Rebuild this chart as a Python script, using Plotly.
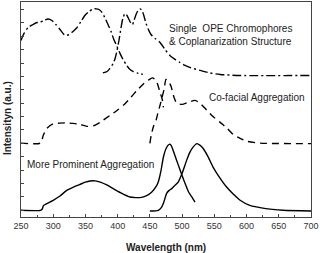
import plotly.graph_objects as go

# Solid curves (bottom): absorption-like and emission
solid_abs_x = [250, 280, 283, 285, 290, 300, 310, 321, 330, 341, 350, 357, 365, 373, 383, 393, 405, 419, 428, 435, 445, 453, 460, 463, 467, 471, 475, 480, 483, 486, 491, 497, 503, 510, 515, 520]
solid_abs_y = [0.5, 0.5, 0.6, 0.87, 1.0, 1.25, 1.55, 1.99, 2.2, 2.42, 2.6, 2.69, 2.7, 2.61, 2.4, 2.12, 1.8, 1.49, 1.45, 1.45, 1.6, 1.87, 2.3, 2.61, 3.4, 4.48, 5.1, 5.43, 5.35, 4.98, 4.3, 3.49, 2.7, 1.87, 1.5, 1.12]
solid_em_x = [450, 463, 468, 471, 476, 480, 484, 489, 494, 500, 507, 512, 517, 523, 528, 533, 540, 548, 558, 569, 580, 590, 605, 621, 640, 657, 700]
solid_em_y = [0.45, 0.5, 0.72, 1.02, 1.77, 1.99, 2.12, 2.37, 2.61, 3.26, 4.23, 4.83, 5.22, 5.48, 5.35, 5.1, 4.53, 3.73, 2.96, 2.24, 1.69, 1.25, 0.87, 0.7, 0.57, 0.5, 0.45]

# Dashed curves (middle)
dash_abs_x = [250, 280, 284.6, 290, 300, 310, 321, 331, 341.5, 352, 362, 372.6, 388, 399, 408.7, 419, 430, 440, 447, 454, 459.5, 462.6, 465.7, 468.8, 471]
dash_abs_y = [5.52, 5.52, 6.1, 6.62, 6.96, 7.01, 7.03, 6.99, 6.92, 6.77, 6.81, 7.07, 7.59, 7.96, 8.34, 8.86, 9.46, 9.94, 10.2, 10.39, 10.2, 9.83, 9.31, 8.86, 8.19]
dash_em_x = [450, 452, 456, 459.5, 462.6, 465.7, 468.8, 472, 475, 478, 482.8, 487.5, 492, 500, 509, 520, 528, 538.6, 548, 559, 570, 579, 590, 601, 621, 700]
dash_em_y = [5.5, 6.1, 6.84, 7.22, 7.81, 8.34, 8.93, 9.53, 10.28, 10.2, 9.76, 8.93, 8.49, 8.41, 8.56, 8.71, 8.49, 7.96, 7.51, 7.07, 6.62, 6.17, 5.87, 5.65, 5.52, 5.48]

# Dash-dot curves (top)
dd_abs_x = [250, 254.7, 261, 268.6, 274.8, 279.5, 285.7, 292, 298, 304, 310.5, 316.7, 320, 324.5, 330.7, 337, 343, 349, 355.5, 361.7, 366.4, 371, 375.7, 380, 385, 389.7, 394, 399, 403.6, 408.3, 413, 417.6, 423.8, 430, 439]
dd_abs_y = [13.19, 13.71, 14.16, 14.38, 14.53, 14.53, 14.68, 14.79, 14.68, 14.38, 14.01, 13.63, 13.56, 13.63, 13.86, 14.16, 14.6, 15.05, 15.35, 15.54, 15.55, 15.5, 15.28, 14.9, 14.38, 13.86, 13.26, 12.74, 12.22, 11.77, 11.4, 11.1, 10.87, 10.76, 10.65]
dd_em_x = [377, 383.5, 388, 393, 396, 399, 402, 405, 408, 411.4, 414.5, 417.6, 420.7, 423, 425.4, 428.5, 431.6, 434.7, 437.8, 441, 444, 447, 451.7, 458, 465.7, 473.5, 481, 489, 496.7, 504.5, 512, 527.8, 543, 559, 590, 700]
dd_em_y = [10.76, 10.87, 11.1, 11.47, 11.84, 12.44, 13.19, 14.08, 14.83, 15.2, 15.05, 14.75, 14.46, 14.38, 14.68, 15.13, 15.43, 15.55, 15.43, 14.98, 14.46, 14.08, 13.63, 13.34, 13.04, 12.51, 12.07, 11.77, 11.54, 11.32, 11.17, 10.95, 10.76, 10.65, 10.57, 10.57]

x_tick_vals = [250, 300, 350, 400, 450, 500, 550, 600, 650, 700]
y_tick_vals = [0.5 + k for k in range(16)]

labels = ["Single  OPE Chromophores", "& Coplanarization Structure", "Co-facial Aggregation", "More Prominent Aggregation"]

fig = go.Figure()
ln = dict(color="black", width=1.4, shape="spline", smoothing=0.6)
for xs, ys, dash in [
    (solid_abs_x, solid_abs_y, "solid"),
    (solid_em_x, solid_em_y, "solid"),
    (dash_abs_x, dash_abs_y, "7px,5px"),
    (dash_em_x, dash_em_y, "7px,5px"),
    (dd_abs_x, dd_abs_y, "9px,3px,2px,3px"),
    (dd_em_x, dd_em_y, "9px,3px,2px,3px"),
]:
    fig.add_trace(go.Scatter(x=xs, y=ys, mode="lines", line=dict(ln, dash=dash), showlegend=False, hoverinfo="skip"))

FAM = "Liberation Sans, Arial, sans-serif"
font = dict(family=FAM, size=10, color="#222")
ann = [
    dict(x=478, y=14.1, text=labels[0]),
    dict(x=478, y=13.1, text=labels[1]),
    dict(x=540, y=8.92, text=labels[2]),
    dict(x=257, y=3.94, text=labels[3]),
]
for a in ann:
    fig.add_annotation(x=a["x"], y=a["y"], text=a["text"], xanchor="left", yanchor="middle",
                       showarrow=False, font=font, borderpad=0)

fig.add_annotation(xref="paper", yref="paper", x=0, xshift=-14, y=0.46, text="<b>Intensityn (a.u.)</b>",
                   textangle=-90, showarrow=False, xanchor="center", yanchor="middle", font=font)
fig.add_annotation(xref="paper", yref="paper", x=0.5, y=0, yshift=-30, text="<b>Wavelength (nm)</b>",
                   showarrow=False, xanchor="center", yanchor="middle", font=font)

axis_common = dict(showline=True, linecolor="#444", linewidth=1, mirror=True, showgrid=False,
                   zeroline=False, ticks="inside", ticklen=3, tickcolor="#444", automargin=False)
fig.update_xaxes(range=[250, 700], tickvals=x_tick_vals, ticktext=[str(v) for v in x_tick_vals],
                 minor=dict(dtick=25, tick0=250, ticks="inside", ticklen=2, tickcolor="#444"),
                 tickfont=dict(family=FAM, size=9, color="#333"),
                 **axis_common)
fig.update_yaxes(range=[0, 16.06], tickvals=y_tick_vals, showticklabels=False, **axis_common)

fig.update_layout(width=320, height=253, margin=dict(l=21, r=9, t=2, b=36),
                  plot_bgcolor="white", paper_bgcolor="white", hovermode=False)
fig.write_html("out.html", config={"displayModeBar": False, "staticPlot": True},
               post_script="document.body.style.margin='0px';document.body.style.overflow='hidden';")
